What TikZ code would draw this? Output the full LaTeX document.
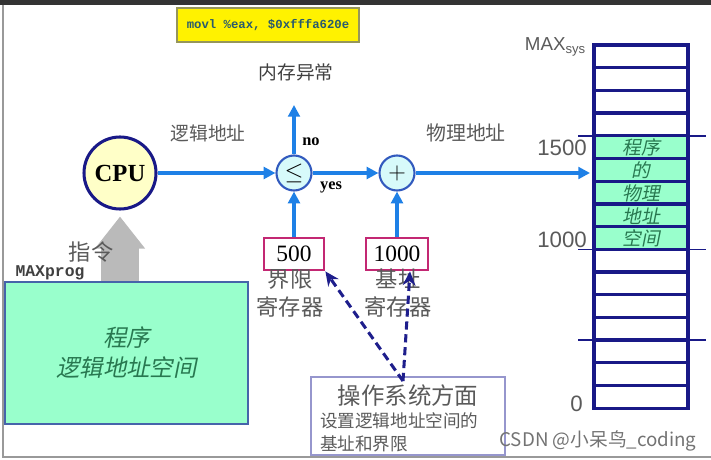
\documentclass[tikz,border=0pt]{standalone}
\usepackage{fontspec}
\setmainfont{Liberation Serif}
\setsansfont{Liberation Sans}
\setmonofont{Liberation Mono}
\newfontfamily\cjk{Noto Sans CJK SC}
\newfontfamily\cjkslant[FakeSlant=0.2]{Noto Sans CJK SC}
\usepackage{tikz}
\usetikzlibrary{arrows.meta}
\usetikzlibrary{calc}
\definecolor{flowblue}{RGB}{30,128,230}
\definecolor{memnavy}{RGB}{25,25,135}
\definecolor{cpufill}{RGB}{255,255,200}
\definecolor{opfill}{RGB}{215,250,250}
\definecolor{opdraw}{RGB}{50,90,190}
\definecolor{regdraw}{RGB}{195,40,115}
\definecolor{dashnavy}{RGB}{30,30,140}
\definecolor{osdraw}{RGB}{150,150,205}
\definecolor{progfill}{RGB}{153,255,204}
\definecolor{progdraw}{RGB}{70,100,170}
\definecolor{progtext}{RGB}{40,120,80}
\definecolor{labelgray}{RGB}{90,90,90}
\definecolor{instrdraw}{RGB}{150,150,90}
\definecolor{instrtext}{RGB}{40,90,110}
\tikzset{
    flow/.style={flowblue, line width=2.8pt, -{Triangle[length=10pt,width=10pt]}},
    opnode/.style={circle, draw=opdraw, fill=opfill, line width=1.8pt, minimum size=1.05cm, inner sep=0pt, font=\fontsize{21}{24}\selectfont},
    regbox/.style={draw=regdraw, line width=2.4pt, fill=white, minimum width=1.8cm, minimum height=0.96cm, inner sep=0pt, font=\fontsize{20}{24}\selectfont},
    osarrow/.style={dashnavy, line width=2.6pt, dash pattern=on 7pt off 4pt, -{Stealth[length=12pt,width=11pt]}},
    memcell/.style={draw=memnavy, line width=2.8pt}
}

\begin{document}
\begin{tikzpicture}[x=0.03cm, y=-0.03cm]
\useasboundingbox (0,0) rectangle (711,460);
\fill[black!80] (0,0) rectangle (711,5);
\draw[black!40, line width=1.6pt] (3,5) -- (3,457) -- (711,457);
\node[draw=instrdraw, fill=yellow, line width=1.2pt, minimum width=5.46cm, minimum height=1.02cm, font=\ttfamily\bfseries\fontsize{10.5}{12}\selectfont, text=instrtext] (instr) at (268,25) {movl \%eax, \$0xfffa620e};
\node[font=\cjk\fontsize{16}{19}\selectfont, text=black!75] (exc) at (296,72) {内存异常};
\node[circle, draw=memnavy, fill=cpufill, line width=2.6pt, minimum size=2.16cm, font=\bfseries\fontsize{21}{24}\selectfont] (cpu) at (120,173) {CPU};
\node[opnode] (cmp) at (294,173) {$\le$};
\node[opnode] (add) at (397,173) {$+$};
\coordinate (excp) at (294,105);
\node[font=\bfseries\fontsize{14}{16}\selectfont] (no) at (311,142) {no};
\node[font=\bfseries\fontsize{14}{16}\selectfont] (yes) at (331,187) {yes};
\node[regbox] (lim) at (294,254) {500};
\node[regbox, minimum width=1.86cm] (base) at (397,254) {1000};
\node[font=\cjk\fontsize{19}{24}\selectfont, text=labelgray, align=center] (limlabel) at (290,293) {界限\\寄存器};
\node[font=\cjk\fontsize{19}{24}\selectfont, text=labelgray, align=center] (baselabel) at (398,293) {基址\\寄存器};
\node[font=\cjk\fontsize{16}{19}\selectfont, text=labelgray] (logaddr) at (208,133) {逻辑地址};
\node[font=\cjk\fontsize{17}{20}\selectfont, text=labelgray] (phyaddr) at (466,133) {物理地址};
\node[draw=memnavy, line width=2.8pt, minimum width=2.82cm, minimum height=10.9cm, inner sep=0pt] (mem) at (641,226.6) {};
\fill[progfill] (594,135.8) rectangle (688,249.3);
\foreach \i in {0,...,15}{
    \draw[memcell] (594,45+22.7*\i) rectangle (688,45+22.7*\i+22.7);
}
\foreach \r in {4,9,13}{
    \draw[memnavy, line width=1.2pt] (578,45+22.7*\r) -- (706,45+22.7*\r);
}
\foreach \r/\t in {4/程序, 5/的, 6/物理, 7/地址, 8/空间}{
    \node[font=\cjkslant\fontsize{16}{19}\selectfont, text=progtext] (memtext\r) at (641,45+22.7*\r+12) {\t};
}
\node[anchor=east, font=\sffamily\fontsize{16}{19}\selectfont, text=labelgray] (maxsys) at (590,47) {MAX\textsubscript{sys}};
\node[anchor=east, font=\sffamily\fontsize{19}{22}\selectfont, text=labelgray] (m1500) at (591,148) {1500};
\node[anchor=east, font=\sffamily\fontsize{19}{22}\selectfont, text=labelgray] (m1000) at (591,240) {1000};
\node[anchor=east, font=\sffamily\fontsize{19}{22}\selectfont, text=labelgray] (m0) at (587,404) {0};
\draw[flow] (cpu) -- (cmp);
\draw[flow] (cmp) -- (add);
\draw[flow, shorten >=2pt] (add) -- (mem.west |- add);
\draw[flow] (cmp) -- (excp);
\draw[flow] (lim) -- (cmp);
\draw[flow] (base) -- (add);
\node[draw=progdraw, fill=progfill, line width=1.8pt, minimum width=7.29cm, minimum height=4.26cm, font=\cjkslant\fontsize{20}{25.6}\selectfont, text=progtext, align=center] (prog) at (126.5,353) {程序\\逻辑地址空间};
\draw[line width=1.14cm, black!27, -{Triangle[length=0.96cm,width=1.44cm]}] (prog.north -| cpu.south) -- ([yshift=-0.18cm]cpu.south);
\node[font=\cjk\fontsize{19}{22}\selectfont, text=labelgray] (instrlabel) at (91,252) {指令};
\node[font=\ttfamily\bfseries\fontsize{14}{16}\selectfont, text=black!75] (maxprog) at (50,273) {MAXprog};
\node[draw=osdraw, line width=1.5pt, minimum width=5.82cm, minimum height=2.34cm] (os) at (408,416) {};
\node[font=\cjk\fontsize{20}{24}\selectfont, text=labelgray] (ostitle) at (408,396) {操作系统方面};
\node[anchor=west, font=\cjk\fontsize{15}{19.6}\selectfont, text=labelgray, align=left] (osdesc) at (316,432) {设置逻辑地址空间的\\基址和界限};
\coordinate (osp) at (403,381);
\draw[osarrow] (osp) -- (lim.south east);
\draw[osarrow] (osp) -- ([xshift=0.39cm]base.south);
\node[font=\cjk\fontsize{16}{19}\selectfont, text=black!55] (csdn) at (598,441) {CSDN @小呆鸟\_coding};
\end{tikzpicture}
\end{document}
